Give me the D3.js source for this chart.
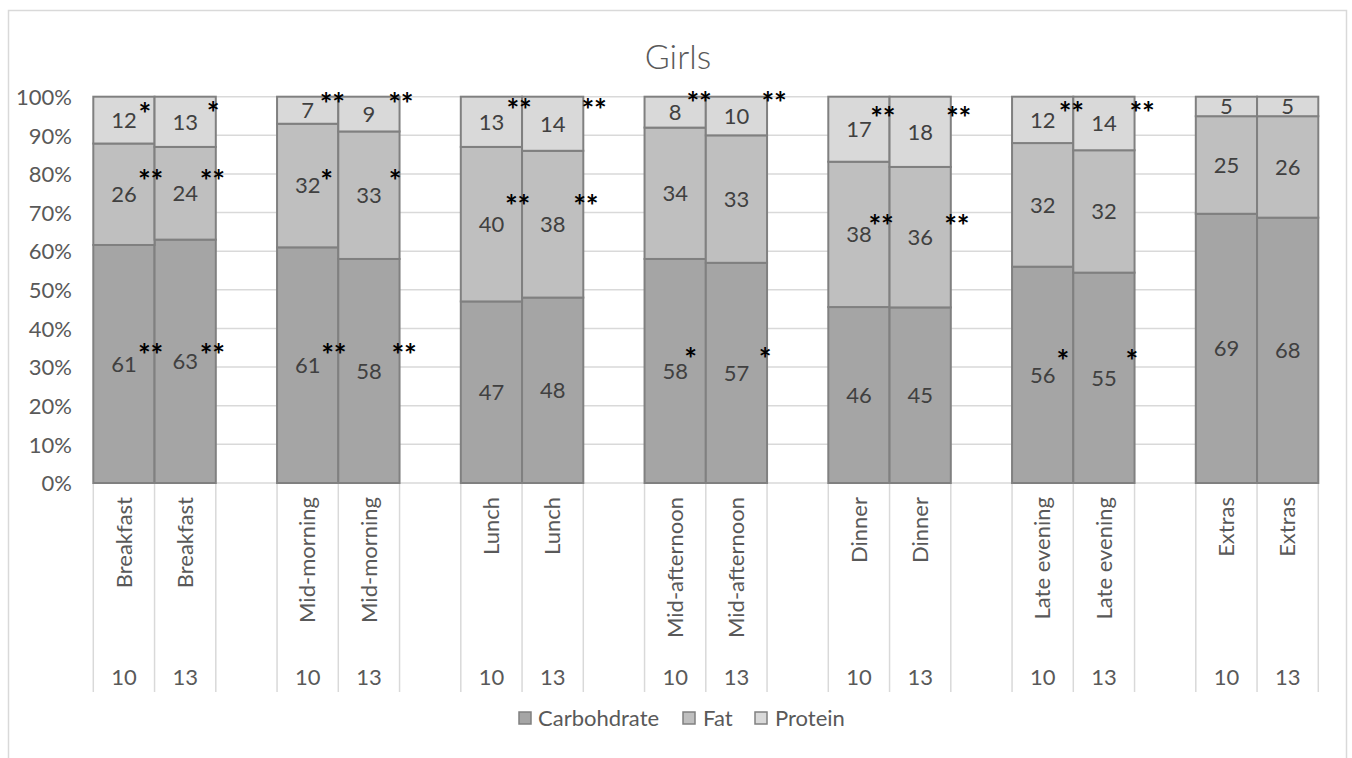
<!DOCTYPE html>
<html>
<head>
<meta charset="utf-8">
<script src="https://cdn.jsdelivr.net/npm/d3@7"></script>
<style>
  html, body { margin: 0; padding: 0; background: #fff; }
  svg { display: block; }
  text { font-family: Lato, "Open Sans", "Noto Sans", sans-serif; }
</style>
</head>
<body>
<svg id="chart" width="1352" height="758"></svg>
<script>
// Meal occasions and age groups (years)
const meals = ["Breakfast", "Mid-morning", "Lunch", "Mid-afternoon", "Dinner", "Late evening", "Extras"];
const ages = ["10", "13"];
const seriesNames = ["Carbohdrate", "Fat", "Protein"];

// Share of energy (%) per meal, ordered meal by meal: age 10 then age 13
const carbohydrate = [61, 63, 61, 58, 47, 48, 58, 57, 46, 45, 56, 55, 69, 68];
const fat          = [26, 24, 32, 33, 40, 38, 34, 33, 38, 36, 32, 32, 25, 26];
const protein      = [12, 13, 7, 9, 13, 14, 8, 10, 17, 18, 12, 14, 5, 5];

const yTicks = [0, 10, 20, 30, 40, 50, 60, 70, 80, 90, 100];

// Significance markers: meal, age, nutrient, stars
const sigMeal     = ["Breakfast","Breakfast","Breakfast","Breakfast","Breakfast","Breakfast",
                     "Mid-morning","Mid-morning","Mid-morning","Mid-morning","Mid-morning","Mid-morning",
                     "Lunch","Lunch","Lunch","Lunch",
                     "Mid-afternoon","Mid-afternoon","Mid-afternoon","Mid-afternoon",
                     "Dinner","Dinner","Dinner","Dinner",
                     "Late evening","Late evening","Late evening","Late evening"];
const sigAge      = ["10","13","10","13","10","13",
                     "10","13","10","13","10","13",
                     "10","13","10","13",
                     "10","13","10","13",
                     "10","13","10","13",
                     "10","13","10","13"];
const sigNutrient = ["Protein","Protein","Fat","Fat","Carbohdrate","Carbohdrate",
                     "Protein","Protein","Fat","Fat","Carbohdrate","Carbohdrate",
                     "Protein","Protein","Fat","Fat",
                     "Protein","Protein","Carbohdrate","Carbohdrate",
                     "Protein","Protein","Fat","Fat",
                     "Protein","Protein","Carbohdrate","Carbohdrate"];
const sigStars    = ["*","*","**","**","**","**",
                     "**","**","*","*","**","**",
                     "**","**","**","**",
                     "**","**","*","*",
                     "**","**","**","**",
                     "**","**","*","*"];

// Layout: where each marker sits relative to its value label (px right, px down)
const sigOffset = [[21,-11],[28,-13.5],[26.8,-17.5],[27.3,-16.6],[26.8,-13.3],[27.3,-10.6],
                   [24.8,-10.9],[31.9,-14.8],[19,-8.8],[26.1,-18.5],[26.3,-14.5],[35.1,-20.3],
                   [27.8,-16.8],[41.5,-18.7],[26.1,-22.5],[33.1,-22.5],
                   [24,-13.8],[37.8,-17.7],[15.5,-17],[28.6,-18.9],
                   [23.9,-15.4],[38.5,-18.1],[22.2,-12.9],[36.8,-15.9],
                   [28.7,-11.3],[38.2,-14.8],[20.2,-18.8],[28,-21.8]];

// ---- build rows ----
const rows = [];
meals.forEach((m, mi) => ages.forEach((a, ai) => {
  const k = mi * ages.length + ai;
  rows.push({ key: m + "|" + a, meal: m, age: a,
    "Carbohdrate": carbohydrate[k], "Fat": fat[k], "Protein": protein[k] });
}));

// Category slots: two bars per meal then an empty slot (none after the last meal)
const slots = [];
meals.forEach((m, mi) => {
  ages.forEach(a => slots.push(m + "|" + a));
  if (mi < meals.length - 1) slots.push(m + "|gap");
});

const colors = { "Carbohdrate": "#a5a5a5", "Fat": "#bfbfbf", "Protein": "#d9d9d9" };
const textGrey = "#595959";

const svg = d3.select("#chart");
const W = 1352, H = 758;
const plot = { left: 93.3, right: 1318.3, top: 96.7, bottom: 483 };

const x = d3.scaleBand().domain(slots).range([plot.left, plot.right]).paddingInner(0).paddingOuter(0);
const y = d3.scaleLinear().domain([0, 1]).range([plot.bottom, plot.top]);

// chart frame
svg.append("rect")
  .attr("x", 8.5).attr("y", 10.5).attr("width", 1338).attr("height", H + 20)
  .attr("fill", "#fff").attr("stroke", "#d9d9d9").attr("stroke-width", 1.5);

// title
svg.append("text")
  .attr("x", 678).attr("y", 69)
  .attr("text-anchor", "middle")
  .attr("font-size", 34).attr("font-weight", 300)
  .attr("fill", textGrey)
  .text("Girls");

// gridlines
svg.append("g").selectAll("line").data(yTicks).join("line")
  .attr("x1", plot.left).attr("x2", plot.right)
  .attr("y1", d => y(d / 100)).attr("y2", d => y(d / 100))
  .attr("stroke", "#d9d9d9").attr("stroke-width", 1.5);

// y axis labels
const yAxis = d3.axisLeft(y)
  .tickValues(yTicks.map(d => d / 100))
  .tickFormat(d => Math.round(d * 100) + "%")
  .tickSize(0).tickPadding(0);
const gy = svg.append("g").attr("transform", "translate(72,0)").call(yAxis);
gy.select(".domain").remove();
gy.selectAll("text")
  .attr("font-size", 22).attr("fill", textGrey)
  .attr("font-family", "Lato, 'Open Sans', sans-serif")
  .attr("dy", "0.35em");

// category separators under the plot
const bounds = slots.map(s => x(s)).concat([plot.right]);
svg.append("g").selectAll("line").data(bounds).join("line")
  .attr("x1", d => d).attr("x2", d => d)
  .attr("y1", plot.bottom).attr("y2", 692)
  .attr("stroke", "#d9d9d9").attr("stroke-width", 1.5);

// stacked 100% bars
const stack = d3.stack().keys(seriesNames).offset(d3.stackOffsetExpand);
const stacked = stack(rows);

const barG = svg.append("g");
stacked.forEach(layer => {
  barG.append("g").selectAll("rect").data(layer).join("rect")
    .attr("x", d => x(d.data.key))
    .attr("width", x.bandwidth())
    .attr("y", d => y(d[1]))
    .attr("height", d => y(d[0]) - y(d[1]))
    .attr("fill", colors[layer.key])
    .attr("stroke", "#808080").attr("stroke-width", 2);
});

// value labels
const labelG = svg.append("g");
stacked.forEach(layer => {
  labelG.append("g").selectAll("text").data(layer).join("text")
    .attr("x", d => x(d.data.key) + x.bandwidth() / 2)
    .attr("y", d => (y(d[0]) + y(d[1])) / 2)
    .attr("dy", "0.36em")
    .attr("text-anchor", "middle")
    .attr("font-size", 22).attr("fill", "#404040")
    .text(d => d.data[layer.key]);
});

// significance markers
const layerByKey = {};
stacked.forEach(l => { layerByKey[l.key] = l; });
const sigG = svg.append("g");
sigStars.forEach((stars, i) => {
  const key = sigMeal[i] + "|" + sigAge[i];
  const seg = layerByKey[sigNutrient[i]].find(d => d.data.key === key);
  const cx = x(key) + x.bandwidth() / 2 + sigOffset[i][0];
  const cy = (y(seg[0]) + y(seg[1])) / 2 + sigOffset[i][1];
  const t = sigG.append("text")
    .attr("y", cy)
    .attr("dy", "0.52em")
    .attr("font-family", "'DejaVu Sans', sans-serif")
    .attr("font-weight", "bold")
    .attr("font-size", 30)
    .attr("fill", "#000");
  // each star placed on its own so the pair keeps a tight, centred spacing
  const n = stars.length, gap = 12.5;
  for (let s = 0; s < n; s++) {
    t.append("tspan")
      .attr("x", cx + (s - (n - 1) / 2) * gap)
      .attr("text-anchor", "middle")
      .text("*");
  }
});

// category labels: meal names (rotated) and age
const catG = svg.append("g");
rows.forEach(r => {
  const cx = x(r.key) + x.bandwidth() / 2;
  catG.append("text")
    .attr("transform", `translate(${cx},497) rotate(-90)`)
    .attr("text-anchor", "end")
    .attr("dy", "0.35em")
    .attr("font-size", 22).attr("fill", textGrey)
    .text(r.meal);
  catG.append("text")
    .attr("x", cx).attr("y", 677)
    .attr("dy", "0.35em")
    .attr("text-anchor", "middle")
    .attr("font-size", 22).attr("fill", textGrey)
    .text(r.age);
});

// legend
const legendItems = [
  { name: "Carbohdrate", sx: 519, tx: 538 },
  { name: "Fat", sx: 683, tx: 703 },
  { name: "Protein", sx: 755, tx: 775 }
];
const lg = svg.append("g");
legendItems.forEach(it => {
  lg.append("rect")
    .attr("x", it.sx).attr("y", 712).attr("width", 12).attr("height", 12)
    .attr("fill", colors[it.name]).attr("stroke", "#808080").attr("stroke-width", 1.5);
  lg.append("text")
    .attr("x", it.tx).attr("y", 718).attr("dy", "0.35em")
    .attr("font-size", 22).attr("fill", textGrey)
    .text(it.name);
});
</script>
</body>
</html>
